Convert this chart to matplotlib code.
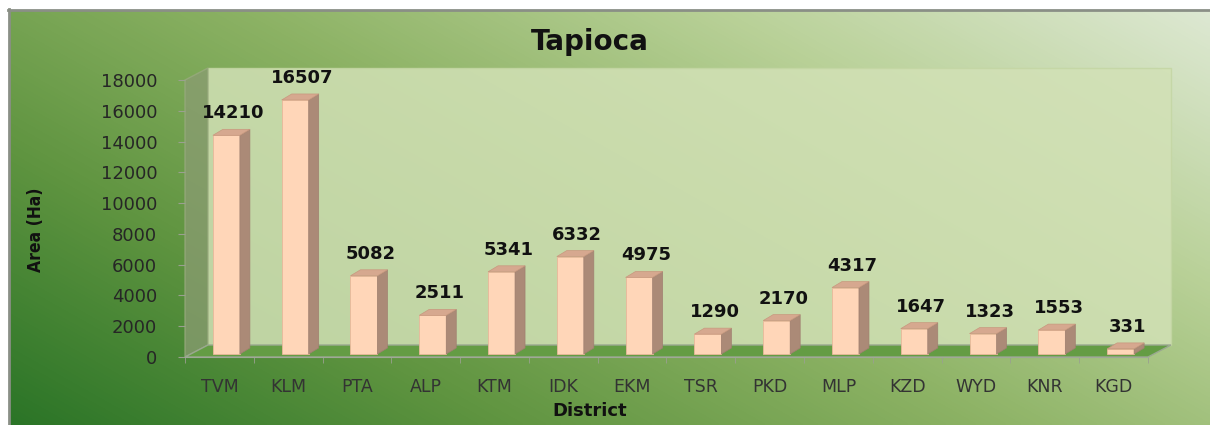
import numpy as np
import matplotlib.pyplot as plt
from matplotlib.patches import Polygon, Rectangle
from matplotlib.colors import LinearSegmentedColormap

districts = ["TVM", "KLM", "PTA", "ALP", "KTM", "IDK", "EKM", "TSR", "PKD", "MLP", "KZD", "WYD", "KNR", "KGD"]
area = [14210, 16507, 5082, 2511, 5341, 6332, 4975, 1290, 2170, 4317, 1647, 1323, 1553, 331]
yticks = list(range(0, 18001, 2000))

W, H = 1210, 425
fig = plt.figure(figsize=(W / 100, H / 100), dpi=100)

# background gradient (dark green bottom-left -> pale top-right)
bg = fig.add_axes([0, 0, 1, 1])
bg.set_xlim(0, W)
bg.set_ylim(H, 0)
bg.axis("off")
gx, gy = np.meshgrid(np.linspace(0, 1, 300), np.linspace(0, 1, 120))
t = 0.62 * gx + 0.38 * (1 - gy)
cmap = LinearSegmentedColormap.from_list("g", ["#2b7427", "#5f9440", "#8cb264", "#b9d198", "#dde8d2"])
bg.imshow(t, cmap=cmap, extent=[8, W, H, 9], aspect="auto", interpolation="bilinear")
bg.add_patch(Rectangle((0, 0), W, 9, color="white", zorder=3))
bg.add_patch(Rectangle((0, 0), 8, H, color="white", zorder=3))
bg.plot([8, W], [9.5, 9.5], color="#8a8f86", lw=2, zorder=4)
bg.plot([8.5, 8.5], [9, H], color="#8a8f86", lw=2, zorder=4)

# main (front plane) axes: x 185..1148 px, y 0 at 357 px, 18000 at 80 px
x0, x1, y0, y1 = 185, 1148, 357, 80
ax = fig.add_axes([x0 / W, (H - y0) / H, (x1 - x0) / W, (y0 - y1) / H])
ax.patch.set_alpha(0)
n = len(districts)
ax.set_xlim(-0.5, n - 0.5)
ax.set_ylim(0, 18000)
ux = n / (x1 - x0)          # data units per pixel in x
uy = 18000 / (y0 - y1)      # data units per pixel in y

# walls and floor
ddx, ddy = 23 * ux, 12 * uy
left, right, top = -0.5, n - 0.5, 18000
ax.add_patch(Polygon([(left + ddx, ddy), (right + ddx, ddy), (right + ddx, top + ddy), (left + ddx, top + ddy)],
                     closed=True, fc="#d2e1b6", ec="#c4d6a4", alpha=0.85, zorder=1, clip_on=False))
ax.add_patch(Polygon([(left, 0), (left + ddx, ddy), (left + ddx, top + ddy), (left, top)],
                     closed=True, fc="#8a9c72", ec="#9aab80", alpha=0.75, zorder=1, clip_on=False))
ax.add_patch(Polygon([(left, 0), (right, 0), (right + ddx, ddy), (left + ddx, ddy)],
                     closed=True, fc="#649c44", ec="#9aa890", lw=1, zorder=2, clip_on=False))

# 3D bars
fw = 27 * ux
offx, offy = 7 * ux, 3 * uy
sx, sy = 10 * ux, 6 * uy
for i, v in enumerate(area):
    xl = i - fw / 2 + offx
    xr = xl + fw
    b = offy
    tp = v + offy
    ax.add_patch(Polygon([(xl, b), (xr, b), (xr, tp), (xl, tp)], closed=True,
                         fc="#ffd6b8", ec="#e8b89a", lw=0.6, zorder=3, clip_on=False))
    ax.add_patch(Polygon([(xr, b), (xr + sx, b + sy), (xr + sx, tp + sy), (xr, tp)], closed=True,
                         fc="#ab8a77", ec="#a08070", lw=0.5, zorder=3, clip_on=False))
    ax.add_patch(Polygon([(xl, tp), (xr, tp), (xr + sx, tp + sy), (xl + sx, tp + sy)], closed=True,
                         fc="#d6a88f", ec="#c8987e", lw=0.5, zorder=3, clip_on=False))
    ax.text(i + 14 * ux, tp + sy + 7 * uy, str(v), ha="center", va="bottom",
            fontsize=13, fontweight="bold", family="DejaVu Sans", color="#111111", zorder=4)

for s in ["top", "right", "left"]:
    ax.spines[s].set_visible(False)
ax.spines["bottom"].set_color("#a0a898")
ax.spines["bottom"].set_zorder(2.5)

ax.set_yticks(yticks)
ax.set_yticklabels([str(v) for v in yticks])
ax.tick_params(axis="y", length=5, color="#9aa090", pad=15, labelsize=13, labelcolor="#262626")
ax.set_xticks(range(n))
ax.set_xticklabels(districts)
ax.set_xticks(np.arange(-0.5, n, 1), minor=True)
ax.tick_params(axis="x", which="major", length=0, pad=15, labelsize=12.5, labelcolor="#333333")
ax.tick_params(axis="x", which="minor", length=4, color="#9aa090")
for lab in ax.get_xticklabels() + ax.get_yticklabels():
    lab.set_family("DejaVu Sans")

fig.text(590 / W, 1 - 42 / H, "Tapioca", ha="center", va="center", fontsize=20,
         fontweight="bold", family="DejaVu Sans", color="#111111")
fig.text(590 / W, 1 - 411 / H, "District", ha="center", va="center", fontsize=13,
         fontweight="bold", family="DejaVu Sans", color="#111111")
fig.text(36 / W, 1 - 230 / H, "Area (Ha)", ha="center", va="center", rotation=90, fontsize=12.5,
         fontweight="bold", fontstretch="condensed", family="DejaVu Sans", color="#111111")

fig.savefig("out.png", dpi=100)
